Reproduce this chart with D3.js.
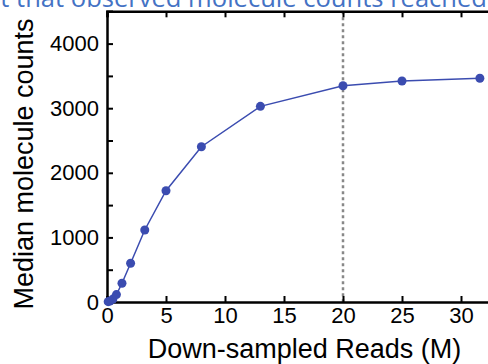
<!DOCTYPE html>
<html><head><meta charset="utf-8">
<script src="https://cdn.jsdelivr.net/npm/d3@7"></script>
<style>body{margin:0;background:#fff;overflow:hidden}svg{display:block}</style>
</head><body>
<svg id="c" width="488" height="364"></svg>
<script>
const reads = [0.1, 0.25, 0.5, 0.8, 1.27, 2.0, 3.2, 5.0, 8.0, 13.0, 20.0, 25.0, 31.6];
const counts = [5, 15, 45, 115, 290, 600, 1115, 1723, 2404, 3029, 3348, 3421, 3463];
const xTicks = [0, 5, 10, 15, 20, 25, 30];
const yTicks = [0, 1000, 2000, 3000, 4000];
const yMinor = [500, 1500, 2500, 3500];
const cutoff = 20;
const titleText = "Point that observed molecule counts reached";
const xLabel = "Down-sampled Reads (M)";
const yLabel = "Median molecule counts";

const svg = d3.select("#c");
const x = d3.scaleLinear().domain([0, 35]).range([107, 520]);
const y = d3.scaleLinear().domain([0, 4500]).range([302, 11.3]);
const font = "Liberation Sans, Arial, sans-serif";
const blue = "#3b4cb0";

// dashed cutoff line
svg.append("line").attr("x1", x(cutoff)).attr("x2", x(cutoff))
  .attr("y1", y(4500)).attr("y2", y(0))
  .attr("stroke", "#888").attr("stroke-width", 2.5).attr("stroke-dasharray", "3,3");

// axes
const xb = d3.axisBottom(x).tickValues(xTicks).tickSize(-6).tickPadding(10).tickFormat(d3.format("d"));
const xt = d3.axisTop(x).tickValues(xTicks).tickSize(-6).tickFormat("");
const yl = d3.axisLeft(y).tickValues(yTicks).tickSize(-6).tickPadding(8).tickFormat(d3.format("d"));
const ylm = d3.axisLeft(y).tickValues(yMinor).tickSize(-6).tickFormat("");

function style(g){
  g.select(".domain").attr("stroke","#000").attr("stroke-width",2.5);
  g.selectAll(".tick line").attr("stroke","#000").attr("stroke-width",2);
  g.selectAll("text").attr("fill","#000").style("font-family",font).style("font-size","22px");
}
svg.append("g").attr("transform",`translate(0,${y(0)})`).call(xb).call(style)
  .selectAll(".tick text").attr("dy","0.5em");
svg.append("g").attr("transform",`translate(0,${y(4500)})`).call(xt).call(style);
svg.append("g").attr("transform",`translate(${x(0)},0)`).call(yl).call(style);
svg.append("g").attr("transform",`translate(${x(0)},0)`).call(ylm).call(style)
  .select(".domain").remove();

// line + markers
const pts = reads.map((r,i)=>[r, counts[i]]);
svg.append("path").datum(pts)
  .attr("d", d3.line().x(d=>x(d[0])).y(d=>y(d[1])))
  .attr("fill","none").attr("stroke",blue).attr("stroke-width",1.5);
svg.append("g").selectAll("circle").data(pts).join("circle")
  .attr("cx",d=>x(d[0])).attr("cy",d=>y(d[1])).attr("r",4.5).attr("fill",blue);

// labels
svg.append("text").attr("x",304.5).attr("y",358).attr("text-anchor","middle")
  .style("font-family",font).style("font-size","27px").text(xLabel);
svg.append("text").attr("transform","translate(33,164) rotate(-90)").attr("text-anchor","middle")
  .style("font-family",font).style("font-size","27px").text(yLabel);

// title (cut off at top)
const t = svg.append("text").attr("x",487).attr("y",7).attr("text-anchor","end")
  .attr("fill","#4472c4").style("font-family","Open Sans, sans-serif").style("font-size","22px").text(titleText);
// fit visible part width
const probe = svg.append("text").style("font-family","Open Sans, sans-serif").style("font-size","22px")
  .text(titleText.slice(4));
const w = probe.node().getComputedTextLength();
probe.remove();
t.style("font-size", (22*487/w).toFixed(2)+"px");
</script>
</body></html>
